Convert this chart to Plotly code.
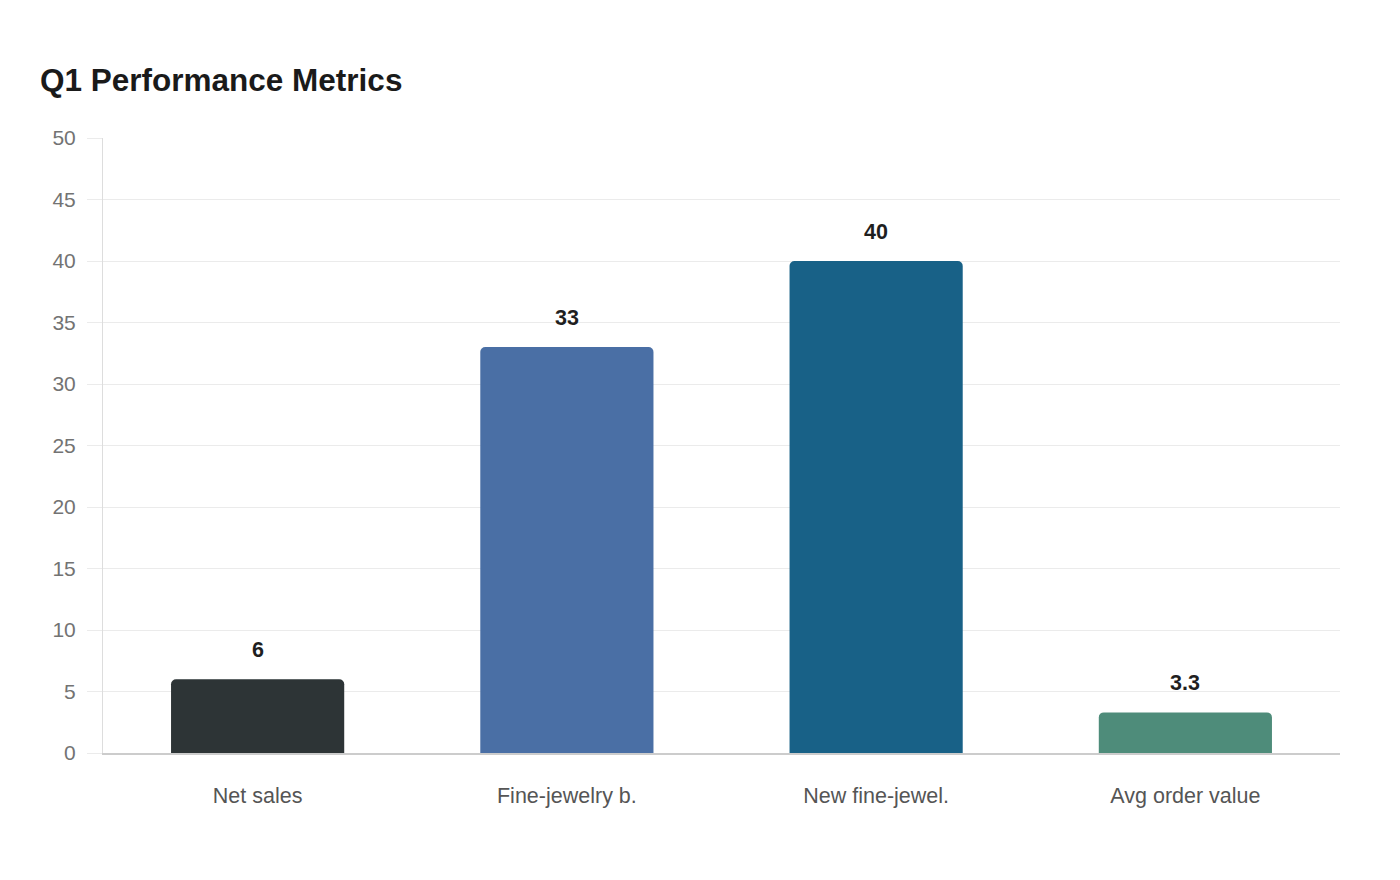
import plotly.graph_objects as go

# data
categories = ["Net sales", "Fine-jewelry b.", "New fine-jewel.", "Avg order value"]
values = [6, 33, 40, 3.3]
value_labels = ["6", "33", "40", "3.3"]
bar_colors = ["#2d3436", "#4a6fa5", "#186187", "#4e8c7a"]

fig = go.Figure(go.Bar(
    x=categories,
    y=values,
    width=0.56,
    marker=dict(color=bar_colors, cornerradius=5, line=dict(width=0)),
    hoverinfo="x+y",
))

# value labels sit well above each bar
for cat, val, lab in zip(categories, values, value_labels):
    fig.add_annotation(
        x=cat, y=val, text=f"<b>{lab}</b>", showarrow=False,
        yanchor="bottom", yshift=15,
        font=dict(family="Liberation Sans, Arial, sans-serif", size=21.5, color="#1f1f1f"),
    )

fig.update_layout(
    width=1400, height=880,
    paper_bgcolor="white", plot_bgcolor="white",
    margin=dict(l=95, r=68, t=130, b=135),
    showlegend=False,
    title=dict(
        text="<b>Q1 Performance Metrics</b>",
        x=32 / 1400, xref="container", xanchor="left",
        y=1 - 72 / 880, yref="container", yanchor="middle",
        font=dict(family="Liberation Sans, Arial, sans-serif", size=31.5, color="#1a1a1a"),
    ),
    font=dict(family="Liberation Sans, Arial, sans-serif"),
)

fig.update_yaxes(
    range=[0, 50], dtick=5,
    showgrid=True, gridcolor="#ebebeb", gridwidth=1,
    showline=True, linecolor="#dddddd", linewidth=1,
    ticks="outside", ticklen=15, tickcolor="#ebebeb",
    ticklabelstandoff=7,
    tickfont=dict(size=21, color="#737373"),
    zeroline=False,
)
fig.update_xaxes(
    showline=True, linecolor="#cccccc", linewidth=1.5,
    ticks="", ticklabelstandoff=22,
    tickfont=dict(size=21.5, color="#555555"),
)

fig.write_html("out.html")
